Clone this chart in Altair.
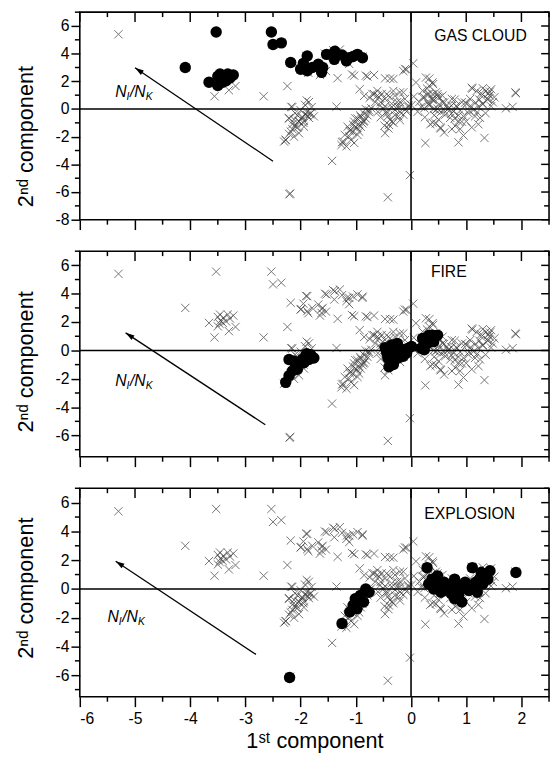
import math
import altair as alt
import pandas as pd

FONT = "Liberation Sans"
X_DOMAIN = [-6, 2.5]

# ---- class points (black circles) ----
gas_pts = [(-4.09, 3.00), (-3.53, 5.56), (-3.66, 1.94), (-3.50, 1.70), (-3.50, 2.36), (-3.41, 1.94),
           (-3.32, 2.53), (-3.22, 2.46), (-3.35, 2.05), (-3.46, 2.53), (-3.28, 2.25),
           (-2.53, 5.56), (-2.50, 4.66), (-2.35, 4.78), (-2.18, 3.36), (-2.00, 2.88), (-1.88, 3.83),
           (-1.88, 2.77), (-1.68, 3.24), (-1.62, 2.65), (-1.53, 3.95), (-1.38, 4.18), (-1.39, 3.59),
           (-1.17, 3.48), (-1.12, 3.71), (-0.97, 3.95), (-0.88, 3.71), (-1.79, 3.00), (-1.95, 3.30),
           (-1.25, 3.90), (-1.05, 3.80), (-1.60, 3.00)]

fire_pts = [(-2.27, -2.25), (-2.21, -1.79), (-2.15, -1.45), (-2.09, -1.10), (-2.03, -0.87), (-1.97, -0.64),
            (-1.91, -0.41), (-1.82, -0.30), (-1.76, -0.53), (-2.21, -0.64), (-2.12, -0.76), (-1.89, -0.23),
            (-2.06, -1.33), (-1.94, -0.87), (-1.85, -0.64),
            (-0.44, -0.18), (-0.38, -0.76), (-0.32, -0.99), (-0.29, -0.07), (-0.20, 0.16), (-0.14, -0.41),
            (-0.05, 0.16), (0.01, 0.28), (-0.23, -0.53), (-0.35, 0.39), (-0.08, -0.18), (-0.42, -0.53),
            (-0.47, 0.20), (-0.40, -1.15), (-0.25, 0.50),
            (0.18, 0.16), (0.21, 0.85), (0.30, 0.51), (0.39, 1.08), (0.48, 1.08), (0.33, 1.08),
            (0.24, 0.05), (0.41, 0.62)]

expl_pts = [(-2.20, -6.16), (-1.25, -2.40), (-1.11, -1.60), (-1.05, -1.14), (-1.01, -0.68), (-0.92, -0.46),
            (-0.82, 0.00), (-0.76, -0.23), (-0.98, -1.37), (-0.86, -0.91),
            (0.29, 1.48), (0.38, 0.68), (0.48, 0.91), (0.60, 0.46), (0.73, 0.23), (0.79, 0.68), (0.41, 0.00),
            (0.54, -0.23), (0.67, 0.00), (0.86, -0.46), (0.92, -0.91), (0.79, -0.68), (0.98, 0.46),
            (1.08, 0.23), (1.17, 0.46), (1.11, 1.48), (1.27, 1.14), (1.43, 1.26), (1.30, 0.34), (1.20, -0.23),
            (1.90, 1.14), (0.32, 0.34), (0.51, 0.34), (0.73, -0.34), (0.60, -0.11), (0.89, -0.11),
            (1.05, -0.11), (1.39, 0.68), (1.24, 0.68), (0.82, 0.23)]

# ---- remaining samples (grey crosses only) ----
other_upper = [(-5.30, 5.40), (-3.56, 0.92), (-3.30, 1.36), (-3.18, 1.66), (-3.47, 1.89), (-3.45, 2.10),
               (-3.40, 2.30), (-2.67, 0.92), (-2.24, 1.66), (-1.86, 2.62), (-1.54, 2.74), (-1.65, 2.46),
               (-1.33, 2.23), (-1.07, 2.50), (-1.03, 2.41), (-0.93, 1.43), (-0.82, 2.41), (-0.67, 2.46),
               (-0.47, 2.22), (-0.32, 2.17), (-0.11, 2.88), (0.04, 3.30), (-0.14, 2.74), (-1.35, 0.17),
               (-2.17, 0.16), (-1.12, 3.26), (-1.16, 3.72), (-1.99, 2.92), (-1.90, 3.84), (-1.56, 4.00),
               (-1.29, 4.30), (-1.41, 4.25), (-0.88, 3.79), (-1.62, 2.92)]
other_outliers = [(-1.43, -3.75), (-2.19, -6.10), (-0.42, -6.38), (-0.02, -4.78), (0.26, -2.46)]
other_a = [(-2.27, -2.23), (-2.18, -1.63), (-2.09, -1.28), (-2.03, -0.92), (-1.97, -0.57), (-1.88, -0.45),
           (-1.85, 0.50), (-1.89, 0.62), (-2.15, 0.14), (-2.21, -0.69), (-2.00, -0.09), (-1.83, -0.37),
           (-1.80, 0.14), (-2.03, -1.75), (-2.12, -2.00), (-1.94, -1.28), (-2.06, -0.45), (-2.30, -2.35),
           (-1.92, 0.30), (-2.10, -0.30), (-1.95, -1.00), (-2.15, -1.10)]
other_b = [(-1.23, -2.35), (-1.17, -2.70), (-1.12, -1.99), (-1.06, -1.63), (-1.00, -1.28), (-0.97, -0.69),
           (-0.91, -0.57), (-0.85, -0.33), (-0.76, -0.10), (-0.94, -1.63), (-0.88, -1.04), (-1.03, -0.92),
           (-1.09, -2.23), (-0.97, -1.87), (-0.82, -0.69), (-1.15, -1.28), (-1.03, -2.45), (-0.91, -1.28),
           (-0.79, -0.45), (-1.20, -1.87), (-1.26, -2.60), (-0.72, 0.05), (-1.10, -1.50), (-0.95, -1.10),
           (-0.85, -0.85)]
other_c = [(-0.70, 1.09), (-0.61, 0.97), (-0.53, 1.09), (-0.47, 0.73), (-0.38, 0.85), (-0.29, 0.97),
           (-0.20, 0.50), (-0.11, 0.73), (-0.05, 0.26), (-0.44, -0.33), (-0.29, -0.45), (-0.20, -0.81),
           (-0.35, 0.14), (-0.20, -0.21), (-0.47, -1.75), (-0.41, -1.40), (-0.56, 0.26), (-0.65, 0.50),
           (-0.14, 1.20), (-0.08, 2.86), (-0.79, 2.35), (-0.38, 2.20), (-0.67, 1.08), (-0.58, 0.85),
           (-0.44, 1.08), (-0.32, 1.31), (-0.20, 1.20), (-0.55, 0.49), (-0.61, 1.31), (-0.50, 0.00),
           (-0.60, -0.20), (-0.25, 0.20), (-0.10, 0.00), (-0.35, -0.90), (-0.55, -0.60), (-0.48, -1.20),
           (-0.75, 0.80), (-0.85, 0.95)]
other_d = [(0.09, 1.92), (0.27, 2.27), (0.33, 1.68), (0.21, 1.33), (0.39, 1.92), (0.45, 1.20), (0.24, 0.85),
           (0.39, 0.73), (0.51, 0.85), (0.15, 0.50), (0.33, 0.26), (0.48, 0.03), (0.42, -0.45), (0.45, -1.04),
           (0.54, -1.40), (0.30, 1.09), (0.05, 0.90), (0.12, -0.20), (0.25, -0.60), (0.35, -1.10)]
other_e = [(0.45, -0.07), (0.57, 0.49), (0.65, 0.26), (0.74, 0.73), (0.83, 0.16), (0.92, 0.49), (1.01, 0.39),
           (1.10, 1.54), (1.19, 1.31), (1.27, 0.97), (1.36, 1.31), (1.45, 1.43), (1.48, 0.49), (1.39, 0.73),
           (1.30, 0.39), (1.22, 0.16), (1.13, -0.07), (1.04, -0.30), (0.95, -0.53), (0.86, -0.87),
           (0.80, -1.22), (0.71, -0.64), (0.62, -0.41), (0.50, -0.76), (0.39, -0.99), (0.53, -1.33),
           (0.74, -1.45), (0.89, -1.45), (1.10, -1.33), (1.22, -1.10), (1.25, -0.64), (0.95, -1.91),
           (1.33, -2.09), (0.86, -2.41), (1.89, 1.20), (1.84, 0.16), (1.72, 0.05), (0.68, 0.05), (0.77, -0.18),
           (1.16, -0.53), (1.42, 0.97), (1.51, 0.85), (1.07, 0.73), (0.57, 0.97), (0.33, 2.20), (0.40, 1.80),
           (1.30, 1.50), (1.40, 1.10), (1.00, -0.90), (0.60, -1.70), (1.45, 0.20), (1.35, -0.30)]

panel_names = ["GAS CLOUD", "FIRE", "EXPLOSION"]
panel_classes = [gas_pts, fire_pts, expl_pts]
y_domains = [[-8, 7], [-7.5, 7], [-7.5, 7]]
panel_heights = [211, 209, 212]
y_title_centres = [126, 112, 101]
y_major_sets = [[-8, -6, -4, -2, 0, 2, 4, 6], [-6, -4, -2, 0, 2, 4, 6], [-6, -4, -2, 0, 2, 4, 6]]
y_minor = [-7, -5, -3, -1, 1, 3, 5, 7]
x_major = [-6, -5, -4, -3, -2, -1, 0, 1, 2]
x_minor = [-5.5, -4.5, -3.5, -2.5, -1.5, -0.5, 0.5, 1.5, 2.5]

arrow_tail = [(-2.50, -3.77), (-2.64, -5.24), (-2.81, -4.55)]
arrow_head = [(-5.00, 2.98), (-5.17, 1.24), (-5.35, 1.93)]
name_pos = [(0.42, 5.3), (0.36, 5.56), (0.24, 5.18)]
ratio_pos = [(-5.36, 1.21), (-5.36, -2.14), (-5.50, -1.93)]

W = 477
XSHAPE = "M-1,-1L1,1M-1,1L1,-1"
HEADSHAPE = "M0,0L0.6,2L-0.6,2Z"

all_pts = gas_pts + fire_pts + expl_pts + other_upper + other_outliers + other_a + other_b + other_c + other_d + other_e
gray_df = pd.DataFrame(all_pts, columns=["x", "y"])


def panel(i):
    H = panel_heights[i]
    last = i == 2
    xs = alt.Scale(domain=X_DOMAIN, nice=False, zero=False)
    ys = alt.Scale(domain=y_domains[i], nice=False, zero=False)

    xaxis = alt.Axis(values=x_major, tickSize=10, tickWidth=1.5, tickColor="black", domain=False, grid=False,
                     labels=last, labelExpr="'' + datum.value", labelFontSize=16, labelFont=FONT,
                     labelColor="black", labelPadding=4, titleFont=FONT, titleFontSize=22,
                     titleFontWeight="normal", titleColor="black", titlePadding=5)
    yaxis = alt.Axis(values=y_major_sets[i], tickSize=9, tickWidth=1.5, tickColor="black", domain=False,
                     grid=False, labelExpr="'' + datum.value", labelFontSize=16, labelFont=FONT,
                     labelColor="black", labelPadding=2, titleFont=FONT, titleFontSize=22,
                     titleFontWeight="normal", titleColor="black", titlePadding=18,
                     titleY=y_title_centres[i])
    xtitle = "1ˢᵗ component" if last else None
    ytitle = "2ⁿᵈ component"

    # identical encodings in every layer so that the shared axes merge cleanly
    xe = alt.X("x:Q", scale=xs, axis=xaxis, title=xtitle)
    ye = alt.Y("y:Q", scale=ys, axis=yaxis, title=ytitle)

    gray = alt.Chart(gray_df).mark_point(shape=XSHAPE, filled=False, stroke="#3a3a3a", strokeWidth=1,
                                         opacity=0.7, size=70, clip=True).encode(x=xe, y=ye)

    zx = alt.Chart(pd.DataFrame({"x": [0]})).mark_rule(color="black", strokeWidth=1.6).encode(x=xe)
    zy = alt.Chart(pd.DataFrame({"y": [0]})).mark_rule(color="black", strokeWidth=1.6).encode(y=ye)

    cls_df = pd.DataFrame(panel_classes[i], columns=["x", "y"])
    circles = alt.Chart(cls_df).mark_circle(size=135, color="black", opacity=1, clip=True).encode(x=xe, y=ye)

    (tx, ty), (hx, hy) = arrow_tail[i], arrow_head[i]
    arrow_df = pd.DataFrame({"x": [tx, hx], "y": [ty, hy], "o": [0, 1]})
    sx = W / (X_DOMAIN[1] - X_DOMAIN[0])
    sy = H / (y_domains[i][1] - y_domains[i][0])
    ang = math.degrees(math.atan2((hx - tx) * sx, (hy - ty) * sy)) % 360
    line = alt.Chart(arrow_df).mark_line(color="black", strokeWidth=1.3).encode(x=xe, y=ye, order="o:Q")
    head = alt.Chart(pd.DataFrame({"x": [hx], "y": [hy]})).mark_point(
        shape=HEADSHAPE, filled=True, color="black", opacity=1, size=81, angle=ang).encode(x=xe, y=ye)

    nx, ny = name_pos[i]
    name = alt.Chart(pd.DataFrame({"x": [nx], "y": [ny], "t": [panel_names[i]]})).mark_text(
        align="left", baseline="middle", fontSize=16, font=FONT, color="black").encode(x=xe, y=ye, text="t:N")

    rx, ry = ratio_pos[i]
    rdf = pd.DataFrame({"x": [rx], "y": [ry]})
    pieces = []
    for txt, dx, dy, fs in [("N", 0, 0, 16), ("I", 11.5, 5, 10.5), ("/N", 15, 0, 16), ("K", 31, 5, 10.5)]:
        pieces.append(alt.Chart(rdf).mark_text(align="left", baseline="middle", fontSize=fs, font=FONT,
                                               fontStyle="italic", color="black", dx=dx, dy=dy, text=txt)
                      .encode(x=xe, y=ye))

    def xt(vals, a, b):
        return alt.Chart(pd.DataFrame({"x": vals})).mark_rule(color="black", strokeWidth=1.5).encode(
            x=xe, y=alt.value(a), y2=alt.value(b))

    def yt(vals, a, b):
        return alt.Chart(pd.DataFrame({"y": vals})).mark_rule(color="black", strokeWidth=1.5).encode(
            y=ye, x=alt.value(a), x2=alt.value(b))

    ticks = [
        xt(x_major, 0, 10), xt(x_minor, 0, 5), xt(x_minor, H, H + 5),
        yt(y_minor, 0, -5), yt(y_major_sets[i], W, W - 8), yt(y_minor, W, W - 5),
    ]

    return alt.layer(gray, zx, zy, circles, line, head, name, *pieces, *ticks).properties(width=W, height=H)


chart = alt.vconcat(panel(0), panel(1), panel(2), spacing=18).properties(
    padding={"left": 5, "top": -4, "right": 0, "bottom": 0}
).configure_view(stroke="black", strokeWidth=1.6)

chart.save("out.html", embed_options={"renderer": "svg", "actions": False})
